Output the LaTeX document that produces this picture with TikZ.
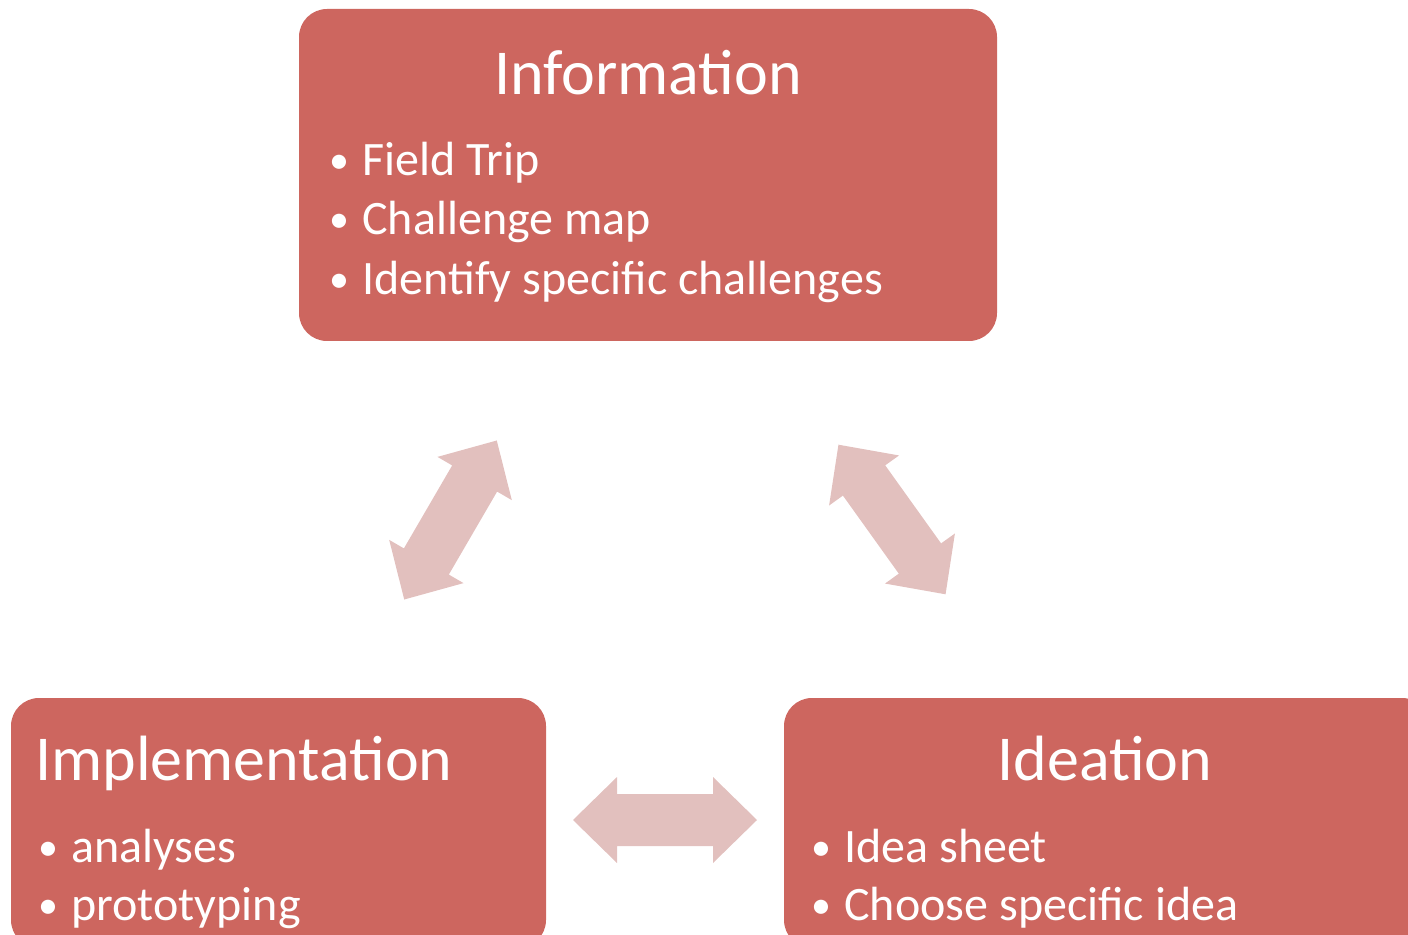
\documentclass[tikz,border=0pt]{standalone}
\usepackage{fontspec}
\setmainfont{Carlito}
\usetikzlibrary{positioning}
\definecolor{boxred}{RGB}{205,102,95}
\definecolor{arrowpink}{RGB}{226,192,190}
\tikzset{
	stage/.style={fill=boxred, draw=none, rounded corners=14pt, inner sep=0pt},
	title/.style={text=white, font=\fontsize{32}{38}\selectfont, inner sep=0pt, anchor=base},
	item/.style={text=white, font=\fontsize{24}{29}\selectfont, inner sep=0pt, anchor=base west},
	pics/dblarrow/.style={code={
		\fill[arrowpink] (-92,0) -- (-48,-43) -- (-48,-26) -- (48,-26) -- (48,-43)
		  -- (92,0) -- (48,43) -- (48,26) -- (-48,26) -- (-48,43) -- cycle;}}
}
\newcommand{\bul}{\makebox[16.5pt][l]{\raisebox{1pt}{\fontsize{20}{20}\selectfont\textbullet}}}

\begin{document}
\begin{tikzpicture}[x=0.5pt, y=-0.5pt]
  \useasboundingbox (0,0) rectangle (1408,935);
  \clip (0,0) rectangle (1408,935);

  % the three stages
  \node[stage, minimum width=349pt, minimum height=166pt] (info) at (648,175) {};
  \node[stage, minimum width=267.5pt, minimum height=125pt] (impl) at (278.5,823) {};
  \node[stage, minimum width=323pt, minimum height=125pt] (idea) at (1107,823) {};

  \node[title] (infotitle) at (648,95) {Information};
  \node[item] (info1) at (329,176) {\bul Field Trip};
  \node[item] (info2) at (329,235) {\bul Challenge map};
  \node[item] (info3) at (329,295) {\bul Identify specific challenges};

  \node[title, anchor=base west] (impltitle) at (35,780) {Implementation};
  \node[item] (impl1) at (38,862) {\bul analyses};
  \node[item] (impl2) at (38,920) {\bul prototyping};

  \node[title] (ideatitle) at (1105,780) {Ideation};
  \node[item] (idea1) at (811,862) {\bul Idea sheet};
  \node[item] (idea2) at (811,920) {\bul Choose specific idea};

  % double arrows between the stages
  \pic[rotate=59.8] (infoimpl) at (450.5,520) {dblarrow};
  \pic[rotate=-54.4] (infoidea) at (892,519.5) {dblarrow};
  \pic (implidea) at (665,820) {dblarrow};
\end{tikzpicture}
\end{document}
